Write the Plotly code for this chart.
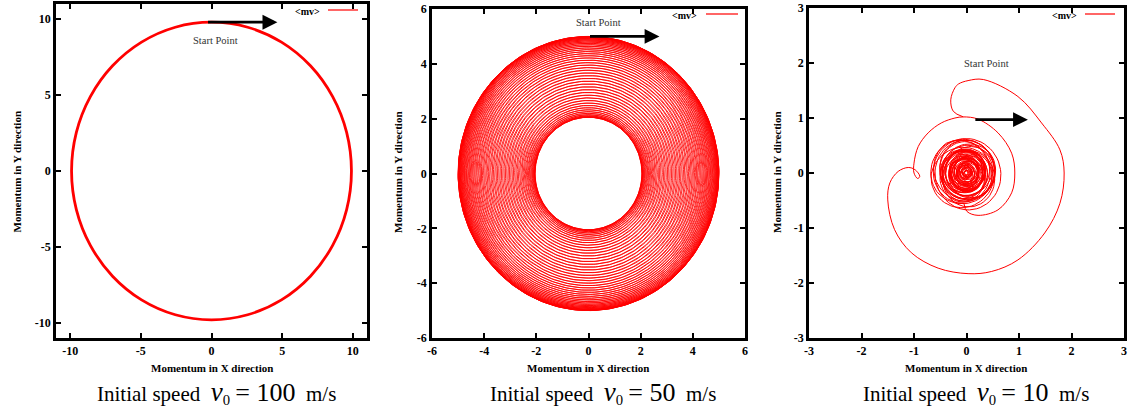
import numpy as np
import plotly.graph_objects as go

W, H = 1129, 410

# ---------------- data ----------------
# Panel 1 (v0 = 100 m/s): closed momentum orbit
p1_x = [9.9, 9.56, 8.57, 7.0, 4.95, 2.56, 0.0, -2.56, -4.95, -7.0, -8.57, -9.56, -9.9,
        -9.56, -8.57, -7.0, -4.95, -2.56, 0.0, 2.56, 4.95, 7.0, 8.57, 9.56, 9.9]
p1_y = [0.0, 2.54, 4.9, 6.93, 8.49, 9.47, 9.8, 9.47, 8.49, 6.93, 4.9, 2.54, 0.0,
        -2.54, -4.9, -6.93, -8.49, -9.47, -9.8, -9.47, -8.49, -6.93, -4.9, -2.54, 0.0]

# Panel 2 (v0 = 50 m/s): precessing orbit filling an annulus
ring_outer_radius = 5.0
ring_inner_radius = 2.05
ring_turns = 90

# Panel 3 (v0 = 10 m/s): outer spiral path
p3_x = [-0.06, -0.25, -0.30, -0.22, -0.15, 0.03, 0.32, 0.98, 1.43, 1.78, 1.86, 1.78, 1.49, 0.98, 0.48,
        0.03, -0.54, -1.05, -1.37, -1.50, -1.46, -1.30, -1.11, -0.98, -0.89, -0.93, -1.0, -1.0, -0.92,
        -0.73, -0.48, -0.22, -0.06, 0.22, 0.60, 0.86, 0.92, 0.86, 0.60, 0.22, 0.01, -0.05]
p3_y = [1.02, 1.12, 1.33, 1.55, 1.62, 1.68, 1.70, 1.39, 0.91, 0.42, 0.0, -0.55, -1.09, -1.58, -1.79,
        -1.83, -1.73, -1.45, -1.03, -0.49, -0.18, 0.03, 0.10, 0.06, -0.06, -0.10, 0.0, 0.18, 0.48,
        0.73, 0.91, 1.0, 1.02, 0.98, 0.73, 0.36, 0.0, -0.36, -0.67, -0.77, -0.70, -0.55]
# Panel 3 tangle: loop centres and radii
tangle_cx = [-0.05, 0.06, -0.13, 0.05, -0.10, 0.09, -0.12, 0.03, -0.06, 0.08, -0.11, 0.04, -0.08, 0.07,
             -0.09, 0.02, -0.05, 0.06, -0.10, 0.03, -0.07, 0.05, -0.04, 0.07, -0.08, 0.02, -0.06, 0.04,
             -0.03, 0.06, -0.07, 0.01, -0.05, 0.04, -0.02, 0.05, -0.06, 0.02, -0.03, 0.04, -0.05, 0.03,
             -0.02, 0.03, -0.04, 0.02, -0.03, 0.01, -0.02, 0.02, -0.03, 0.01, -0.01, 0.00]
tangle_cy = [0.05, -0.04, 0.03, 0.09, -0.11, -0.06, 0.07, -0.09, 0.11, 0.02, -0.05, 0.08, -0.09, -0.02,
             0.05, -0.01, 0.07, -0.06, 0.03, 0.05, -0.04, 0.06, -0.07, 0.01, 0.04, -0.05, 0.00, 0.06,
             -0.03, 0.02, 0.05, -0.04, 0.01, -0.02, 0.04, 0.00, -0.03, 0.03, 0.00, 0.02, -0.04, 0.03,
             0.05, -0.03, 0.00, 0.04, -0.02, 0.01, 0.03, -0.02, 0.01, 0.00, 0.01, 0.00]
tangle_r = [0.60, 0.64, 0.57, 0.55, 0.58, 0.52, 0.54, 0.49, 0.47, 0.50, 0.45, 0.46, 0.43, 0.44, 0.40,
            0.41, 0.38, 0.39, 0.36, 0.35, 0.34, 0.33, 0.32, 0.31, 0.31, 0.30, 0.29, 0.28, 0.28, 0.27,
            0.26, 0.25, 0.24, 0.23, 0.22, 0.21, 0.20, 0.19, 0.18, 0.17, 0.16, 0.15, 0.14, 0.13, 0.12,
            0.11, 0.10, 0.09, 0.08, 0.07, 0.06, 0.05, 0.04, 0.03]

x_ticks = [[-10, -5, 0, 5, 10], [-6, -4, -2, 0, 2, 4, 6], [-3, -2, -1, 0, 1, 2, 3]]
tick_text = [["-10", "-5", "0", "5", "10"], ["-6", "-4", "-2", "0", "2", "4", "6"],
             ["-3", "-2", "-1", "0", "1", "2", "3"]]
ranges = [[-11, 11], [-6, 6], [-3, 3]]
speeds = ["100", "50", "10"]
arrows = [(-0.35, 9.8, 4.66, 9.8), (0.0, 5.0, 2.72, 5.0), (0.14, 0.97, 1.17, 0.97)]
start_text = [(0.3, 8.6), (0.4, 5.5), (0.39, 2.0)]

# ---------------- geometry (pixels) ----------------
panels = [dict(x0=56, x1=367, y0=4, y1=338),
          dict(x0=432, x1=745, y0=9, y1=338),
          dict(x0=809, x1=1124, y0=8, y1=338)]


def X(px):
    return px / W


def Y(py):
    return 1 - py / H


fig = go.Figure()
RED = "#ff0000"

# panel 1
fig.add_trace(go.Scatter(x=p1_x, y=p1_y, mode="lines", line=dict(color=RED, width=2.8, shape="spline", smoothing=1.0),
                         xaxis="x", yaxis="y", showlegend=False, hoverinfo="skip"))

# panel 2
R1 = (ring_outer_radius + ring_inner_radius) / 2
R2 = (ring_outer_radius - ring_inner_radius) / 2
th = np.linspace(0, 2 * np.pi * ring_turns, ring_turns * 240)
z = 1j * np.exp(-1j * th) * (R1 + R2 * np.exp(1j * th / ring_turns))
fig.add_trace(go.Scatter(x=z.real, y=z.imag, mode="lines", line=dict(color=RED, width=0.85),
                         xaxis="x2", yaxis="y2", showlegend=False, hoverinfo="skip"))

# panel 3
fig.add_trace(go.Scatter(x=p3_x, y=p3_y, mode="lines", line=dict(color=RED, width=1.0, shape="spline", smoothing=1.0),
                         xaxis="x3", yaxis="y3", showlegend=False, hoverinfo="skip"))
tx, ty = [], []
n = len(tangle_r)
for i in range(n - 1):
    s = np.linspace(0, 1, 60, endpoint=False)
    cx = tangle_cx[i] + (tangle_cx[i + 1] - tangle_cx[i]) * s
    cy = tangle_cy[i] + (tangle_cy[i + 1] - tangle_cy[i]) * s
    r = tangle_r[i] + (tangle_r[i + 1] - tangle_r[i]) * s
    a = -np.pi / 2 - 2 * np.pi * (i + s) * 1.07
    tx.extend(cx + r * np.cos(a))
    ty.extend(cy + r * np.sin(a))
tx = [p3_x[-1]] + tx
ty = [p3_y[-1]] + ty
fig.add_trace(go.Scatter(x=tx, y=ty, mode="lines", line=dict(color=RED, width=1.0),
                         xaxis="x3", yaxis="y3", showlegend=False, hoverinfo="skip"))

axis_common = dict(showline=True, linecolor="black", linewidth=2.5, mirror="ticks", ticks="inside",
                   ticklen=5, tickwidth=1.5, tickcolor="black", showgrid=False, zeroline=False,
                   tickfont=dict(family="Liberation Serif", size=12, color="black", weight="bold"),
                   fixedrange=True, automargin=False)

layout = dict(width=W, height=H, margin=dict(l=0, r=0, t=0, b=0, autoexpand=False), paper_bgcolor="white",
              plot_bgcolor="white", showlegend=False)
names = ["", "2", "3"]
for k, p in enumerate(panels):
    layout["xaxis" + names[k]] = dict(axis_common, domain=[X(p["x0"]), X(p["x1"])], range=ranges[k],
                                      tickvals=x_ticks[k], ticktext=tick_text[k], anchor="y" + names[k])
    layout["yaxis" + names[k]] = dict(axis_common, domain=[Y(p["y1"]), Y(p["y0"])], range=ranges[k],
                                      tickvals=x_ticks[k], ticktext=tick_text[k], anchor="x" + names[k])
fig.update_layout(**layout)

serif = "Liberation Serif"
ann = []
shapes = []
xt_centers = [212, 588, 966]
yt_centers = [16.5, 398, 777]
cap_centers = [216, 603, 976]
leg_text_right = [322, 699, 1079]
leg_line = [(328, 358, 10), (706, 738, 14), (1085, 1115, 14)]
for k, p in enumerate(panels):
    ann.append(dict(text="Momentum in X direction", x=X(xt_centers[k]), y=Y(368), xref="paper", yref="paper",
                    showarrow=False, font=dict(family=serif, size=11, color="black", weight="bold"),
                    xanchor="center", yanchor="middle"))
    ann.append(dict(text="Momentum in Y direction", x=X(yt_centers[k]), y=Y(172), xref="paper", yref="paper",
                    showarrow=False, textangle=-90, font=dict(family=serif, size=11, color="black", weight="bold"),
                    xanchor="center", yanchor="middle"))
    cap = ('Initial speed&nbsp; <span style="font-size:27px"><i>v</i></span><sub>0</sub> '
           '<span style="font-size:26px">= ' + speeds[k] + '</span>&nbsp; m/s')
    ann.append(dict(text=cap, x=X(cap_centers[k]), y=Y(392), xref="paper", yref="paper", showarrow=False,
                    font=dict(family=serif, size=21, color="black"), xanchor="center", yanchor="middle"))
    ann.append(dict(text="&lt;mv&gt;", x=X(leg_text_right[k]), y=Y(leg_line[k][2] + 1), xref="paper", yref="paper",
                    showarrow=False, font=dict(family=serif, size=10, color="black", weight="bold"),
                    xanchor="right", yanchor="middle"))
    shapes.append(dict(type="line", xref="paper", yref="paper", x0=X(leg_line[k][0]), x1=X(leg_line[k][1]),
                       y0=Y(leg_line[k][2]), y1=Y(leg_line[k][2]), line=dict(color=RED, width=1.2)))
    sx, sy = start_text[k]
    ann.append(dict(text="Start Point", x=sx, y=sy, xref="x" + names[k], yref="y" + names[k], showarrow=False,
                    font=dict(family=serif, size=10.5, color="#333333"), xanchor="center", yanchor="middle"))
    ax0, ay0, ax1, ay1 = arrows[k]
    ann.append(dict(text="", x=ax1, y=ay1, ax=ax0, ay=ay0, xref="x" + names[k], yref="y" + names[k],
                    axref="x" + names[k], ayref="y" + names[k], showarrow=True, arrowhead=2,
                    arrowsize=1.1, arrowwidth=2.7, arrowcolor="black", standoff=0, startstandoff=0))
fig.update_layout(annotations=ann, shapes=shapes)

fig.write_html("out.html", config={"displayModeBar": False},
               post_script="document.body.style.margin='0px';document.body.style.overflow='hidden';")
